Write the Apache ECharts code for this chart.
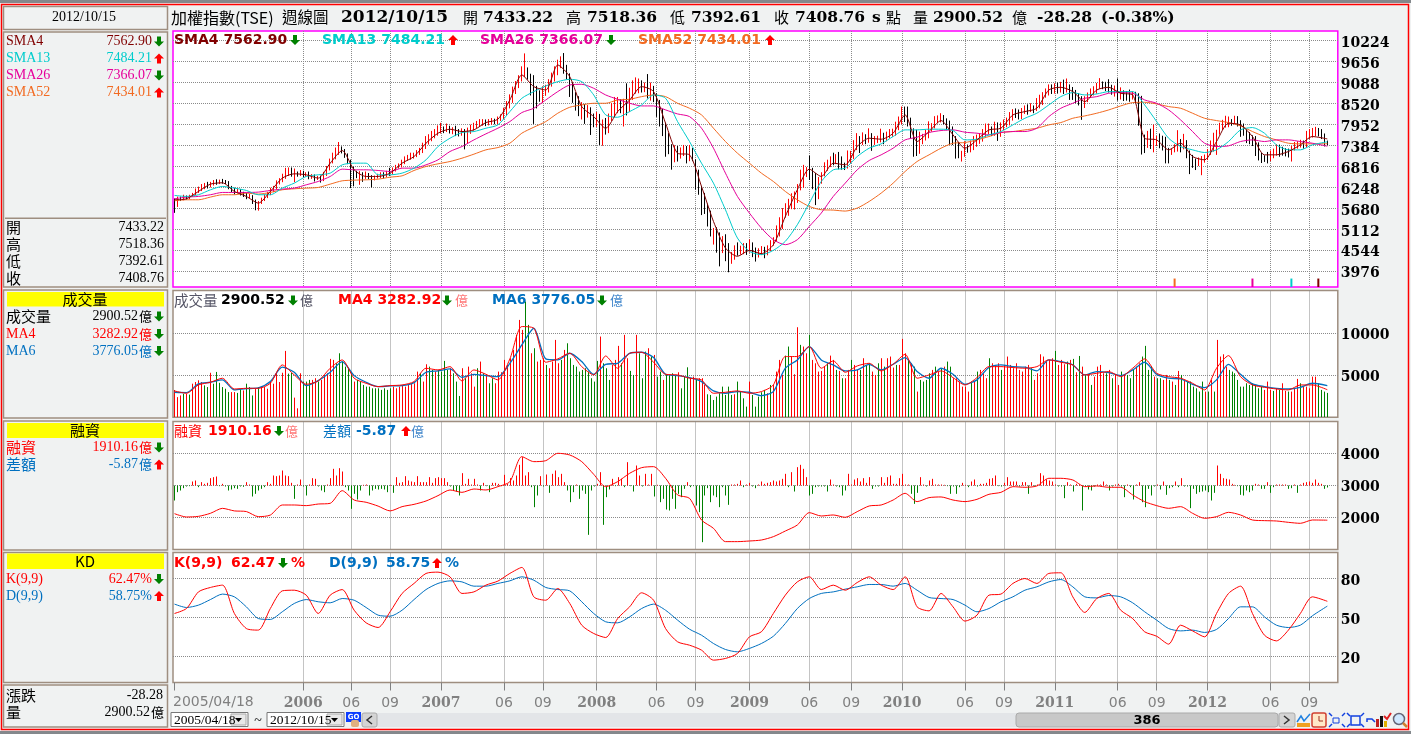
<!DOCTYPE html>
<html><head><meta charset="utf-8"><style>html,body{margin:0;padding:0;background:#f0f2f2}#c{width:1411px;height:734px}</style>
<script src="https://cdn.jsdelivr.net/npm/echarts@6/dist/echarts.min.js"></script></head><body><div id="c"></div>
<script>
const tickIdx=[43,59,72,89,110,123,141,161,174,192,212,226,243,264,277,294,315,328,345,366,379];
const tickLabels=['2006','06','09','2007','06','09','2008','06','09','2009','06','09','2010','06','09','2011','06','09','2012','06','09'];
const closes=[5700,5960,5930,5990,5960,6010,6070,6150,6200,6240,
6310,6280,6340,6390,6370,6420,6400,6390,6240,6180,
6130,6160,6090,6050,5990,6020,5870,5760,5830,5940,
6000,6080,6170,6230,6380,6440,6520,6610,6670,6590,
6620,6600,6630,6580,6610,6530,6560,6490,6520,6470,
6620,6760,6950,7080,7200,7310,7250,7130,6950,6750,
6640,6590,6610,6560,6600,6530,6470,6520,6560,6610,
6590,6650,6640,6720,6800,6840,6940,7020,7050,7100,
7110,7180,7230,7350,7460,7570,7650,7720,7790,7840,
7810,7830,7790,7800,7750,7730,7780,7620,7780,7850,
7900,7960,8000,8010,7980,8020,8040,8020,8080,8130,
8250,8440,8620,8850,8990,9180,9350,9480,9320,9180,
8880,8800,8650,8820,8900,9080,9210,9350,9540,9650,
9480,9250,9050,8620,8560,8270,8400,8210,8350,8100,
8040,8170,7700,7950,7800,8130,8300,8490,8540,8380,
8600,8470,8750,8900,8950,9020,8920,9000,8800,8900,
8640,8480,8280,7900,7620,7310,7020,7260,7140,7200,
7260,7030,7240,7060,6700,6150,5980,5640,5530,5000,
5030,4750,4600,4790,4460,4250,4370,4560,4500,4620,
4680,4560,4700,4510,4490,4550,4590,4560,4610,4750,
4830,5140,5290,5590,5650,5780,5990,6000,6300,6650,
6700,6740,6600,6560,6300,6450,6620,6800,6900,7000,
6980,7030,6870,6830,6820,7000,7120,7330,7520,7500,
7620,7530,7650,7560,7560,7570,7620,7580,7650,7700,
7740,7870,8050,8230,8200,7980,7700,7580,7240,7480,
7600,7640,7870,7880,8020,8100,8110,8090,8020,7860,
7500,7380,7130,7180,7350,7290,7420,7500,7560,7600,
7720,7790,7850,7790,7900,7760,7880,7950,8010,8130,
8280,8260,8210,8310,8380,8340,8400,8370,8440,8540,
8780,8860,8940,8900,8970,8920,8990,8950,8980,8850,
8780,8660,8640,8560,8630,8750,8820,8880,8960,9050,
9030,8990,8960,8880,8900,8740,8810,8770,8760,8730,
8790,8680,8170,7600,7500,7610,7480,7570,7590,7530,
7480,7290,7230,7260,7350,7500,7420,7420,7150,6980,
6900,6880,6950,7010,7040,7180,7400,7620,7720,7880,
7980,7990,8040,8020,8100,7980,7880,7700,7650,7580,
7530,7420,7120,7060,7050,7040,7150,7190,7300,7250,
7240,7210,7190,7270,7380,7420,7450,7380,7620,7700,
7730,7800,7740,7680,7437,7408.76];
const opens=[5910,5750,5960,5930,5990,5960,6010,6070,6150,6200,
6240,6310,6280,6340,6390,6370,6420,6400,6390,6240,
6180,6130,6160,6090,6050,5990,6020,5870,5760,5830,
5940,6000,6080,6170,6230,6380,6440,6520,6610,6670,
6590,6620,6600,6630,6580,6610,6530,6560,6490,6520,
6470,6620,6760,6950,7080,7200,7310,7250,7130,6950,
6750,6640,6590,6610,6560,6600,6530,6470,6520,6560,
6610,6590,6650,6640,6720,6800,6840,6940,7020,7050,
7100,7110,7180,7230,7350,7460,7570,7650,7720,7790,
7840,7810,7830,7790,7800,7750,7730,7780,7620,7780,
7850,7900,7960,8000,8010,7980,8020,8040,8020,8080,
8130,8250,8440,8620,8850,8990,9180,9350,9480,9320,
9180,8880,8800,8650,8820,8900,9080,9210,9350,9540,
9650,9480,9250,9050,8620,8560,8270,8400,8210,8350,
8100,8040,8170,7700,7950,7800,8130,8300,8490,8540,
8380,8600,8470,8750,8900,8950,9020,8920,9000,8800,
8900,8640,8480,8280,7900,7620,7310,7020,7260,7140,
7200,7260,7030,7240,7060,6700,6150,5980,5640,5530,
5000,5030,4750,4600,4790,4460,4250,4370,4560,4500,
4620,4680,4560,4700,4510,4490,4550,4590,4560,4610,
4750,4830,5140,5290,5590,5650,5780,5990,6000,6300,
6650,6700,6740,6600,6560,6300,6450,6620,6800,6900,
7000,6980,7030,6870,6830,6820,7000,7120,7330,7520,
7500,7620,7530,7650,7560,7560,7570,7620,7580,7650,
7700,7740,7870,8050,8230,8200,7980,7700,7580,7240,
7480,7600,7640,7870,7880,8020,8100,8110,8090,8020,
7860,7500,7380,7130,7180,7350,7290,7420,7500,7560,
7600,7720,7790,7850,7790,7900,7760,7880,7950,8010,
8130,8280,8260,8210,8310,8380,8340,8400,8370,8440,
8540,8780,8860,8940,8900,8970,8920,8990,8950,8980,
8850,8780,8660,8640,8560,8630,8750,8820,8880,8960,
9050,9030,8990,8960,8880,8900,8740,8810,8770,8760,
8730,8790,8680,8170,7600,7500,7610,7480,7570,7590,
7530,7480,7290,7230,7260,7350,7500,7420,7420,7150,
6980,6900,6880,6950,7010,7040,7180,7400,7620,7720,
7880,7980,7990,8040,8020,8100,7980,7880,7700,7650,
7580,7530,7420,7120,7060,7050,7040,7150,7190,7300,
7250,7240,7210,7190,7270,7380,7420,7450,7380,7620,
7700,7730,7800,7740,7680,7433.22];
const highs=[5950,6000,6000,6050,6030,6050,6100,6220,6270,6340,
6370,6400,6400,6450,6470,6460,6480,6450,6420,6290,
6240,6220,6200,6130,6100,6070,6040,5920,5880,5970,
6060,6130,6240,6290,6440,6500,6620,6780,6790,6790,
6760,6680,6720,6700,6660,6680,6610,6600,6560,6570,
6670,6830,7030,7190,7330,7480,7360,7290,7170,7000,
6810,6700,6690,6660,6680,6640,6580,6570,6620,6660,
6660,6700,6780,6790,6860,6900,7000,7090,7130,7190,
7190,7260,7320,7460,7640,7690,7780,7830,7930,8000,
7900,7980,7920,7880,7920,7830,7850,7830,7870,7950,
8000,8050,8100,8100,8090,8100,8130,8110,8170,8230,
8410,8590,8770,8980,9130,9290,9530,9880,9500,9330,
9290,9000,8880,8990,9030,9180,9360,9530,9710,9800,
9890,9570,9340,9090,8830,8720,8560,8510,8480,8420,
8250,8290,8240,8090,8130,8250,8530,8700,8700,8640,
8650,9070,8950,9150,9230,9200,9150,9090,9320,9090,
9000,8800,8620,8380,8000,7720,7420,7390,7370,7330,
7400,7370,7400,7320,7010,6730,6290,6100,5810,5620,
5150,5170,5030,4930,4980,4740,4500,4680,4760,4670,
4740,4740,4840,4760,4620,4600,4660,4640,4680,4820,
4900,5220,5440,5690,5820,5940,6090,6140,6340,6730,
6860,6800,7110,6780,6640,6530,6660,6930,7000,7090,
7190,7150,7210,7090,6920,7250,7240,7530,7720,7640,
7740,7690,7850,7720,7640,7650,7840,7730,7760,7830,
7840,8030,8170,8440,8440,8440,8140,7850,7810,7760,
7700,7810,8040,7990,8180,8200,8260,8210,8120,8060,
7900,7640,7480,7240,7500,7410,7520,7640,7680,7720,
7830,7980,7980,7900,8030,8010,8010,8090,8140,8290,
8370,8390,8360,8400,8470,8500,8530,8470,8670,8760,
8830,8930,9040,9040,9070,9090,9110,9170,9200,9040,
8970,8890,8800,8720,8720,8820,8930,8990,9080,9210,
9120,9110,9180,9030,9010,9200,8960,8880,8860,8900,
8850,8840,8800,8730,7680,7780,7840,7950,7640,7710,
7650,7620,7320,7310,7420,7800,7560,7700,7530,7250,
7130,7030,7060,7100,7140,7290,7520,7730,7810,8000,
8080,8190,8170,8100,8190,8180,8070,7980,7820,7750,
7660,7640,7470,7190,7120,7210,7250,7300,7420,7410,
7350,7310,7300,7370,7480,7500,7540,7520,7780,7830,
7860,7890,7860,7830,7710,7518.36];
const lows=[5560,5720,5880,5900,5920,5930,5990,6040,6100,6150,
6200,6220,6250,6300,6320,6340,6350,6340,6200,6120,
6060,6090,6030,5990,5930,5950,5800,5630,5620,5800,
5880,5960,6040,6120,6190,6330,6390,6480,6560,6540,
6390,6540,6560,6530,6540,6470,6480,6410,6450,6380,
6420,6560,6710,6900,7010,7130,7170,7050,6880,6230,
6280,6500,6320,6400,6480,6470,6250,6440,6490,6500,
6490,6530,6560,6600,6680,6760,6790,6880,6970,7000,
7030,7070,7130,7180,7290,7410,7500,7580,7650,7710,
7720,7750,7710,7690,7640,7630,7650,7280,7430,7700,
7790,7850,7890,7920,7910,7930,7950,7960,7960,8050,
8100,8200,8390,8540,8780,8940,9120,9240,9170,8740,
7970,8390,8570,8530,8730,8820,8980,9120,9290,9480,
9330,9180,8700,8540,8330,8180,8090,7970,8140,7670,
7880,7890,7400,7380,7680,7720,8050,8180,8260,8260,
7900,8200,8290,8620,8790,8800,8820,8830,8660,8600,
8560,8160,7900,7640,7080,7150,6730,6930,6950,7030,
7100,6900,6960,6960,6190,6050,5500,5530,5190,4920,
4700,4480,4110,4470,4250,3950,4180,4290,4400,4430,
4440,4420,4480,4360,4240,4350,4430,4330,4410,4520,
4670,4780,4920,5120,5430,5480,5660,5650,5830,6170,
6240,6530,6450,6200,5770,5930,6350,6550,6700,6800,
6850,6880,6740,6730,6720,6760,6900,7020,7260,7180,
7400,7420,7460,7240,7400,7450,7470,7420,7500,7580,
7620,7650,7800,7960,8020,7900,7580,7080,7100,7160,
7420,7520,7580,7760,7850,7990,8010,7960,7800,7400,
7400,7030,7040,6950,7080,7190,7200,7260,7350,7430,
7490,7620,7690,7640,7650,7510,7620,7800,7880,7930,
8060,8130,8090,8100,8240,8220,8290,8260,8320,8390,
8480,8680,8740,8780,8790,8790,8820,8780,8820,8620,
8620,8530,8470,8080,8400,8560,8680,8740,8790,8920,
8910,8860,8820,8760,8710,8600,8630,8590,8600,8570,
8630,8550,7920,7140,7180,7320,7290,7200,7370,7310,
7250,6900,6900,7130,7200,7220,7200,7280,7040,6610,
6780,6720,6830,6580,6920,6990,7130,7220,7130,7680,
7800,7870,7880,7920,7960,7900,7620,7650,7450,7420,
7370,7100,6980,6910,6940,6900,6960,7040,7110,7080,
7110,7090,7060,6950,7250,7300,7330,7300,7330,7560,
7600,7640,7630,7560,7360,7392.61];
const sma4=[5914,5941,6140,6338,6374,6140,6005,5824,6140,6500,6618,6591,6500,6906,7249,6726,6546,6546,6636,6906,7086,7447,7718,7826,7763,7808,
8006,8096,8619,9295,8980,8890,9566,9250,8439,8168,7853,8304,8619,8980,8845,7988,7177,7132,6275,5328,4607,4382,4544,4454,4697,5464,6185,6744,6546,6906,6861,7357,7582,7555,7718,8214,7492,7763,8060,7672,
7312,7537,7808,7853,8214,8304,8394,8890,8962,8845,8574,8890,8962,8800,8754,7582,7537,7267,7447,7086,6996,7492,7988,7943,7628,7132,7132,7222,7402,7628,7562.9];
const sma13=[6032,6005,6050,6185,6275,6230,6167,6050,6050,6230,6365,6546,6591,6636,6861,6906,6906,6591,6591,6636,6771,6996,7357,7582,7736,7763,
7853,7943,8304,8664,8845,8998,9115,9178,9115,8754,8214,8150,8304,8484,8754,8664,8033,7492,6906,6365,5644,4878,4517,4427,4544,4788,5238,5824,6410,6726,6771,7086,7312,7429,7628,7808,7808,7826,7826,7790,
7537,7555,7672,7763,7943,8123,8259,8484,8709,8818,8754,8781,8845,8845,8845,8484,8033,7582,7357,7267,7195,7267,7492,7808,7871,7718,7402,7267,7267,7402,7484.21];
const sma26=[5941,5987,6005,6050,6113,6113,6113,6122,6167,6203,6230,6320,6410,6546,6744,6726,6726,6708,6681,6771,6771,6861,6996,7222,7357,7537,
7700,7853,8033,8277,8394,8619,8845,9025,9043,8935,8754,8637,8529,8457,8457,8349,8240,8168,7853,7312,6636,6005,5554,5148,4832,4697,4832,5193,5554,6005,6365,6726,6978,7132,7312,7537,7609,7736,7790,7808,
7745,7718,7672,7736,7763,7763,7853,8168,8394,8529,8664,8709,8800,8818,8800,8619,8529,8349,8078,7763,7447,7357,7375,7492,7537,7492,7537,7537,7492,7447,7366.07];
const sma52=[5887,5914,5914,5987,6050,6050,6095,6068,6113,6185,6212,6230,6248,6338,6428,6446,6455,6473,6527,6563,6708,6816,6888,6951,7041,7150,
7267,7330,7447,7718,7880,8033,8259,8421,8484,8529,8529,8619,8637,8709,8754,8709,8529,8394,8214,7853,7492,7177,6906,6636,6410,6140,5914,5734,5644,5635,5608,5689,5869,6095,6365,6681,6951,7132,7312,7447,
7465,7537,7628,7736,7763,7808,7853,7943,8006,8123,8186,8259,8349,8457,8547,8556,8511,8439,8394,8259,8123,8060,8006,7916,7763,7628,7537,7447,7429,7429,7434.01];
const volumes=[3250,2400,2600,2800,2800,2700,4000,4200,4400,4200,
3800,3600,5300,4000,5400,4100,3600,3400,3000,3000,
3000,2900,3400,3200,4000,3600,2600,3400,3600,3600,
3600,3400,4200,4000,5300,4200,5300,7900,5200,5300,
2340,1070,5240,4250,4250,4450,4450,4650,4250,4450,
5040,5240,6950,6830,6430,7620,6630,6030,5840,5240,
4250,4450,4250,3850,3650,3650,3450,3450,3450,3260,
3450,3260,3450,3650,3450,3650,3850,3650,3850,4050,
4050,5440,5240,4250,6310,6030,5640,5440,5640,5440,
6710,5640,5840,5240,4250,2540,5840,4650,6030,5240,
3650,5840,6630,5240,5120,4050,4650,4050,5440,5360,
6830,6230,7030,8020,9810,11590,10400,13780,11000,7620,
8220,6630,6830,7030,6230,5840,6630,9210,6430,6830,
8020,8810,7030,6230,6030,5440,5640,5840,5440,4650,
4250,6710,9610,6430,5840,4450,6230,6830,8500,6430,
9810,7030,5520,5040,9810,7620,4650,7820,8220,7230,
7420,4840,5440,4450,5040,5040,5240,5040,5360,3450,
4840,5950,4650,4840,4450,4650,4650,3850,2740,2660,
2060,2460,2860,3650,2660,3650,2660,2740,4250,3060,
2260,1270,4250,2660,1270,2460,2980,3260,2860,3850,
3850,5440,6830,5040,7340,8420,7230,5120,10720,8620,
8420,7620,9810,6830,6430,5440,5520,6030,6430,7340,
6830,5640,5520,4650,4650,5640,6830,6230,5640,5640,
7030,6230,6430,5440,5040,6430,7030,6030,7030,7230,
5920,6230,6230,9330,7620,6830,6430,6030,3060,4450,
4250,4450,5240,5640,6030,5440,5840,6030,6630,6030,
4650,4650,4250,3650,3650,3060,4250,4250,5440,5640,
5240,4650,7030,6430,6230,6430,5640,6230,7230,6230,
5840,6430,5640,5440,6030,6230,5840,4450,5240,7500,
7230,6630,6830,7030,7900,6230,6830,6310,6630,6830,
6950,5360,7300,6030,5040,5040,3850,4840,6030,6230,
5240,5240,5640,4650,5040,3850,5440,5040,5040,4650,
5640,6030,6430,7230,8500,5640,6030,4840,4650,4650,
4450,5040,4450,4250,3850,5520,5040,4450,4250,4250,
3650,3450,3060,4250,3060,3060,4450,3060,9210,7230,
7500,6030,5640,5440,5240,4450,3650,3650,4050,3850,
4050,3850,3450,3650,3260,4250,3260,3140,3450,3260,
4050,3140,3060,3060,3370,4570,4050,3650,3650,3450,
4840,4840,4050,3260,3060,2900.52];
const volumeDir=['rrrgrgrrrr','ggrggggggr','rggrgggrgr','rrrrrrrrgg','rrrgggrrgr','rrrrgggggg','rggggggggg','gggrrrrrrr','rrgrrggrgg','ggrgggrgrr',
'rgrgrggrrr','rrrrrrrggr','grrrgrrrrg','rggggggggg','ggrgggrrrg','rrggrgggrg','rggrggggrg','ggrrgrrrgg','gggggggrgg','ggrgggggrg',
'rrrrggrrrg','rrgrrrrrgr','rgrgrrgrrg','rggrrgrgrr','rgrrrgrgrg','gggrgrgrgg','rrrrrrgrgr','rrgrrrgrrr','rrrrrrgrrr','rrrrgrrrgr',
'grgrgrgrrr','rgrgrrgrgg','grrggggrgg','rrgrgrgrgg','ggggrgrgrr','rrgggggggg','ggggrrrgrg','rrgrrrgrrr','rrgggg'].join('');
const volMA4=[3140,2860,3850,4170,4650,3370,3450,3450,4050,6230,5040,3930,4330,5840,6830,4650,4050,3650,3770,3850,4250,5840,5640,6030,4330,5640,
5120,4450,6950,10800,10600,6550,6950,7620,6030,5040,7300,5840,7620,7740,6550,5120,5040,4650,4450,2860,2980,3140,2860,3060,3850,7230,7230,8420,5840,6710,5360,6110,6430,5520,6310,7500,4650,5040,5520,4720,
3850,4720,6030,6030,5920,5840,6030,6830,6550,6230,5040,5240,5440,4840,5840,6950,5240,4840,4650,4050,3260,5840,7340,4840,3850,3570,3370,3260,3850,3850,3282.92];
const volMA6=[2980,2940,3970,4170,4450,3260,3410,3490,4250,5960,5360,3770,4370,5360,6630,4960,4170,3650,3730,3770,4130,5360,5520,5760,4760,5120,
4960,4840,6430,8610,10600,6950,6830,7620,6630,5120,6310,6430,7620,7740,7110,5120,4960,4720,4250,3140,2860,3060,2980,2580,3060,5840,6830,8420,6830,6230,5520,5640,6310,5640,6310,7110,5440,4650,5840,5120,
3930,4450,5920,6230,6030,5960,5520,6830,6630,6230,5040,5440,5320,4960,5640,6550,5120,4650,4570,3930,3530,4450,6310,5120,3970,3650,3450,3370,3570,4050,3776.05];
const margin=[2114,2010,2030,2125,2280,2200,2180,2020,2070,2385,2385,2365,2415,2437,2833,2540,2470,2350,2200,2333,2405,2510,2677,2854,2780,2885,
2854,2958,3115,3896,3740,3770,4000,3948,3740,3344,2958,3115,3375,3552,3583,3219,2700,2594,1916,1656,1240,1240,1260,1290,1395,1572,1760,2146,2041,2073,2000,2177,2354,2385,2540,2750,2490,2615,2636,2540,
2490,2562,2719,2780,2958,2938,2979,3219,3219,3167,2958,2979,2938,2938,2698,2490,2365,2281,2333,2125,1969,2020,2156,2073,1916,1896,1885,1843,1812,1916,1910.16];
const marginDiff=[-45,-20,-15,-8,-3,-2,12,15,-5,10,5,8,22,25,27,-2,5,-3,-15,-12,-8,-10,-3,-4,10,3,-33,-25,-15,-10,-5,10,5,30,28,30,45,30,28,8,-40,3,18,-3,-30,3,22,20,-3,-15,-20,3,22,50,30,52,42,-5,-15,-70,-25,-42,-15,2,3,-30,-15,-10,-12,-10,-12,-20,2,-22,25,8,10,28,15,12,10,28,10,10,10,25,8,22,25,22,22,10,-3,-15,-18,-30,37,5,20,3,20,3,
-15,8,-2,-20,8,8,5,-2,32,5,22,15,30,62,85,30,40,-5,-65,-30,28,-3,33,-22,35,45,25,35,10,-15,-50,-20,3,-40,-15,-25,-148,-15,-3,5,40,-118,-35,-12,20,-2,25,20,-5,70,-2,-18,60,30,-3,35,3,35,-33,2,-50,-40,-72,-75,-40,-70,-25,-35,-10,10,-5,-2,-60,-80,-170,-30,-8,-50,-30,-35,-65,-5,-30,-58,3,3,5,15,-5,3,8,-3,-8,3,12,5,8,10,15,12,15,20,35,-5,40,-18,55,62,50,25,-30,-25,-5,-3,-3,-3,-18,18,3,-3,-5,-30,-15,35,3,18,22,12,22,8,25,-10,-3,-3,25,8,25,30,5,5,22,35,3,3,-25,-55,-22,25,3,-3,15,20,3,3,3,2,-2,-25,-3,-25,
-5,
8,2,-5,12,18,-3,5,5,8,20,22,30,-2,-3,8,25,12,12,12,-3,10,10,-25,10,-3,3,37,30,18,15,12,3,-3,-3,-38,10,3,-18,5,3,-75,-3,-12,-15,-3,3,3,12,3,-15,-3,3,5,-3,-35,3,-5,-42,3,10,-50,-65,-10,-30,-3,3,-12,12,-28,-8,-5,12,-5,22,-3,-3,-68,-10,-25,-20,-18,-15,-20,-45,-22,60,35,22,20,18,5,2,-2,-28,-30,-15,-20,-15,5,3,-10,-10,10,-22,-5,3,3,3,3,-10,-8,3,-22,3,8,10,12,8,18,8,5,-10,-5.87];
const kdK=[53.1,56.9,69.7,73.1,74.9,53.1,41.5,40.3,56.9,70.5,71,67.2,53.1,67.2,71.5,55.6,45.9,42.3,54.4,68.5,76.2,83.9,84.9,81.3,68.5,69.7,
74.9,78,83.9,88.5,65.9,63.3,72.3,60.8,44.1,37.7,34.6,49.2,58.2,69,63.3,41.5,31.3,28.7,24.9,17.2,18.5,22.3,35.1,39,53.1,67.2,77.4,81.3,71.5,74.9,71,76.9,81.3,74.9,71.5,81.3,58.2,55.1,68.5,58.2,
47.2,51.8,67.2,68,76.2,80,76.2,83.9,84.4,65.9,53.9,64.6,68.5,55.6,49.2,39,35.6,29.5,44.1,39.7,35.1,53.1,68.5,74.1,53.1,36.4,32,40.3,53.1,65.9,62.47];
const kdD=[60.3,57.7,59.5,63.8,68,65.9,58.2,49.2,48.5,54.4,60.8,63.8,62.1,61.3,64.6,63.3,57.7,51.8,51,55.6,63.8,71.5,76.2,78.2,77.4,74.1,
74.1,76.2,78.2,81.3,78.7,73.1,71.5,70.5,62.1,53.1,46.7,45.9,50.5,56.9,60.3,55.6,48,41,36.4,30,25.4,23.6,26.2,30,35.6,45.4,56.9,64.6,68.5,69.7,71.8,73.6,75.4,75.4,74.1,76.2,71,65.4,64.6,63.8,
59.5,54.4,56.9,62.1,65.9,71,73.6,77.4,79.2,73.6,65.9,65.1,66.9,65.9,61.3,54.4,48,41.5,39.7,40.3,38.5,40.8,49.2,58.2,58.2,50.5,44.1,42.3,44.1,51.3,58.75];
const crossIdx=[334,360,373,382];
const crossVal=[3780,3780,3780,3780];
const crossColor=['#f26a21','#e6009a','#00cccc','#800000'];
const priceTicks=[3976,4544,5112,5680,6248,6816,7384,7952,8520,9088,9656,10224];
const volTicks=[5000,10000], marginTicks=[2000,3000,4000], kdTicks=[20,50,80];
const sideSMA=[['SMA4','7562.90',0,'#800000'],['SMA13','7484.21',1,'#00cccc'],['SMA26','7366.07',0,'#e6009a'],['SMA52','7434.01',1,'#f26a21']];

const N=389, lineStep=4, lastIdx=385;
const categories=Array.from({length:N},(_,i)=>String(i));
const sparse=a=>{const d=new Array(N).fill(null);a.forEach((v,k)=>{d[k===a.length-1?lastIdx:k*lineStep]=v});return d};
const tickMap={};tickIdx.forEach((t,k)=>tickMap[t]=tickLabels[k]);
const isTick=i=>i===0||tickMap[i]!==undefined;
const isGrid=i=>tickMap[i]!==undefined;

const RED='#ff0000',GRN='#008000',BLU='#0070c0',BRN='#9e8e80',MAG='#ff00ff';
const serif='"Liberation Serif","Noto Sans CJK TC",serif', cjk='"Noto Sans CJK TC","Liberation Serif",sans-serif',
      dsb='"DejaVu Sans","Noto Sans CJK TC",sans-serif', dse='"DejaVu Serif","Noto Sans CJK TC",serif';
const G=[];
function T(x,y,s,o){o=o||{};G.push({type:'text',z:100,silent:true,x:x,y:y,style:{text:s,fill:o.c||'#000',fontFamily:o.f||serif,fontSize:o.s||14,fontWeight:o.b?'bold':'normal',align:o.a||'left',verticalAlign:'middle'}})}
function R(x,y,w,h,o){o=o||{};G.push({type:'rect',z:o.z||50,silent:true,shape:{x:x,y:y,width:w,height:h,r:o.r||0},style:{fill:o.fill||'none',stroke:o.stroke||null,lineWidth:o.lw||1}})}
function P(pts,o){G.push({type:'polyline',z:60,silent:true,shape:{points:pts},style:{stroke:o.c,lineWidth:o.lw||1,fill:'none'}})}
function A(x,y,up){const c=up?RED:GRN,d=up?-1:1;G.push({type:'polygon',z:100,silent:true,shape:{points:[[x,y+5*d],[x-5,y],[x-2,y],[x-2,y-5*d],[x+2,y-5*d],[x+2,y],[x+5,y]]},style:{fill:c}})}

R(0,0,1411,3,{fill:'#84888c'});R(0,731,1411,3,{fill:'#84888c'});
R(1.5,4.5,1407,725,{stroke:RED,lw:1.5});
[[3.5,6.5,164,23],[3.5,32,164,255],[3.5,290,164,128],[3.5,421,164,129],[3.5,552.5,164,130],[3.5,685,164,42]].forEach(b=>R(b[0],b[1],b[2],b[3],{stroke:BRN,lw:1.5}));
R(5,217.5,161,1.5,{fill:BRN});
T(84,17.5,'2012/10/15',{a:'center'});
sideSMA.forEach((r,k)=>{const y=41.5+17*k;T(6,y,r[0],{c:r[3]});T(152,y,r[1],{c:r[3],a:'right'});A(159,y,r[2])});
[['開','7433.22'],['高','7518.36'],['低','7392.61'],['收','7408.76']].forEach((r,k)=>{const y=227.5+17*k;T(6,y,r[0],{f:cjk,s:15});T(164,y,r[1],{a:'right'})});
function head(y,h,s){R(7,y,157,h,{fill:'#ffff00'});T(85,y+h/2,s,{f:cjk,s:15,a:'center'})}
head(292,14.5,'成交量');head(423,15,'融資');head(553.5,15.5,'KD');
function side(y,lab,val,c,up,unit){T(6,y,lab,{c:c,f:/[A-Z]/.test(lab)?serif:cjk,s:/[A-Z]/.test(lab)?14:15});T(unit?138:152,y,val,{c:c,a:'right'});if(unit)T(139,y,unit,{c:c,f:cjk,s:13});A(159,y,up)}
side(316.5,'成交量','2900.52','#000',0,'億');side(334,'MA4','3282.92',RED,0,'億');side(351,'MA6','3776.05',BLU,0,'億');
side(447.5,'融資','1910.16',RED,0,'億');side(464.5,'差額','-5.87',BLU,1,'億');
side(579,'K(9,9)','62.47%',RED,0);side(596,'D(9,9)','58.75%',BLU,1);
T(6,695,'漲跌',{f:cjk,s:15});T(163,695,'-28.28',{a:'right'});T(6,712,'量',{f:cjk,s:15});T(150,712,'2900.52',{a:'right'});T(151,712,'億',{f:cjk,s:13});
T(171,17.5,'加權指數(TSE)',{f:cjk,s:16});T(282,17.5,'週線圖',{f:cjk,s:15.5});
[[341,'2012/10/15'],[483,'7433.22'],[587,'7518.36'],[691,'7392.61'],[795,'7408.76'],[872,'s'],[933,'2900.52'],[1037,'-28.28'],[1101,'(-0.38%)']].forEach(r=>T(r[0],17.5,r[1],{f:dse,b:1,s:r[1].length==10?17:15.5}));
[[463,'開'],[566,'高'],[670,'低'],[774,'收'],[886,'點'],[913,'量'],[1012,'億']].forEach(r=>T(r[0],17.5,r[1],{f:cjk,s:15}));
[[174,'SMA4 7562.90','#800000',295,0],[322,'SMA13 7484.21','#00cccc',453,1],[480,'SMA26 7366.07','#e6009a',611,0],[638,'SMA52 7434.01','#f26a21',770,1]].forEach(r=>{T(r[0],40,r[1],{f:dsb,b:1,c:r[2]});A(r[3],40,r[4])});
T(174,300.5,'成交量',{f:cjk,s:14.5,c:'#556'});T(221,300.5,'2900.52',{f:dsb,b:1});A(293,300.5,0);T(300,300.5,'億',{f:cjk,s:13,c:'#556'});
T(338,300.5,'MA4 3282.92',{f:dsb,b:1,c:RED});A(447,300.5,0);T(455,300.5,'億',{f:cjk,s:13,c:'#f77'});
T(492,300.5,'MA6 3776.05',{f:dsb,b:1,c:BLU});A(602,300.5,0);T(610,300.5,'億',{f:cjk,s:13,c:'#48c'});
T(174,431,'融資',{f:cjk,s:14,c:RED});T(208,431,'1910.16',{f:dsb,b:1,c:RED});A(279,431,0);T(285,431,'億',{f:cjk,s:13,c:'#f77'});
T(323,431,'差額',{f:cjk,s:14,c:BLU});T(356,431,'-5.87',{f:dsb,b:1,c:BLU});A(406,431,1);T(411,431,'億',{f:cjk,s:13,c:'#48c'});
T(174,563,'K(9,9)',{f:dsb,b:1,c:RED});T(231,563,'62.47',{f:dsb,b:1,c:RED});A(283,563,0);T(291,563,'%',{f:dsb,b:1,c:RED});
T(329,563,'D(9,9)',{f:dsb,b:1,c:BLU});T(386,563,'58.75',{f:dsb,b:1,c:BLU});A(437,563,1);T(445,563,'%',{f:dsb,b:1,c:BLU});
T(173,702,'2005/04/18',{f:dsb,s:14,c:'#808080'});
function combo(x,w,s){R(x,712.5,w,14,{fill:'#fff',stroke:'#777'});T(x+3,720,s,{s:13.5});R(x+w-17,714,15,11,{fill:'#e8e8e8',stroke:'#aaa'});G.push({type:'polygon',z:70,silent:true,shape:{points:[[x+w-13,718],[x+w-6,718],[x+w-9.5,722]]},style:{fill:'#000'}})}
combo(171,77,'2005/04/18');combo(267,77,'2012/10/15');T(258,721,'~',{s:14,a:'center'});
R(346,712,15,10,{fill:'#0a3cff'});T(353.5,717,'GO',{f:dsb,s:7,b:1,c:'#fff',a:'center'});R(351,720,8,7,{fill:'#e0b080',r:2});
R(362,713,933,14,{fill:'#e3e5e8'});
R(362,713,15,14,{fill:'#d4d4d4',stroke:'#aaa',r:2});P([[372,716],[367,720],[372,724]],{c:'#333',lw:1.5});
R(1016,713,262,14,{fill:'#c8c8c8',stroke:'#aaa',r:3});T(1147,720.5,'386',{f:dsb,s:13,b:1,a:'center'});
R(1279,713,16,14,{fill:'#d4d4d4',stroke:'#aaa',r:2});P([[1284,716],[1289,720],[1284,724]],{c:'#333',lw:1.5});
R(1297,723,13,4,{fill:'#f0a020'});P([[1297,722],[1301,716],[1304,721],[1310,714]],{c:'#2080e0',lw:1.5});
R(1312,713,14,14,{fill:'#ffe8c8',stroke:'#d04030',lw:1.5,r:2});P([[1319,716],[1319,721],[1323,721]],{c:'#a03020',lw:1});
R(1333,718,6,5,{stroke:'#1040e0'});P([[1329,713],[1332,716]],{c:'#1040e0',lw:1.5});P([[1345,713],[1342,716]],{c:'#1040e0',lw:1.5});P([[1329,727],[1332,724]],{c:'#1040e0',lw:1.5});P([[1345,727],[1342,724]],{c:'#1040e0',lw:1.5});
R(1351,716,9,9,{stroke:'#1040e0',lw:1.5});P([[1347,713],[1350,716]],{c:'#1040e0',lw:1.5});P([[1364,713],[1361,716]],{c:'#1040e0',lw:1.5});P([[1347,727],[1350,724]],{c:'#1040e0',lw:1.5});P([[1364,727],[1361,724]],{c:'#1040e0',lw:1.5});
P([[1375,722],[1372,719],[1367,719],[1367,722]],{c:'#1040e0',lw:1.5});
R(1376,719,3,8,{fill:'#c02020'});R(1380,716,3,11,{fill:'#111'});R(1384,721,3,6,{fill:'#e0b000'});P([[1384,716],[1387,719],[1391,713]],{c:'#e02020',lw:2});
G.push({type:'circle',z:60,silent:true,shape:{cx:1399,cy:719,r:5.5},style:{fill:'#cfe8ff',stroke:'#667',lineWidth:1.5}});P([[1403,723],[1407,727]],{c:'#d08030',lw:2.5});

const gridCfg=[[31,256,MAG,1.5],[290.5,126.8,BRN,1.5],[421.5,128,BRN,1.5],[552.5,130,BRN,1.5]];
const grids=gridCfg.map(g=>({show:true,left:173,width:1164.8,top:g[0],height:g[1],backgroundColor:'#fff',borderColor:g[2],borderWidth:g[3],containLabel:false}));
const dot={show:true,lineStyle:{color:'#8a8a8a',type:[1,1],width:1}};
const xAxes=[0,1,2,3].map(k=>({type:'category',gridIndex:k,data:categories,boundaryGap:true,axisLine:{show:false},
  axisTick:k==3?{show:true,length:8,alignWithLabel:true,interval:i=>isTick(i),lineStyle:{color:'#808080',width:1}}:{show:false,alignWithLabel:true,interval:i=>isGrid(i)},
  splitLine:{...dot,alignWithLabel:true,interval:i=>isGrid(i)},
  axisLabel:k==3?{show:true,interval:i=>isGrid(i),margin:14,formatter:(v,i)=>{const s=tickMap[v];return s===undefined?'':(s.length==4?'{y|'+s+'}':'{m|'+s+'}')},
    rich:{y:{fontFamily:'"DejaVu Serif"',fontWeight:'bold',fontSize:14,color:'#808080'},m:{fontFamily:'"DejaVu Sans"',fontSize:14,color:'#808080'}}}:{show:false}}));
const yA=(k,min,max,ticks)=>({type:'value',gridIndex:k,min:min,max:max,position:'right',scale:true,axisLine:{show:false},
  axisTick:{show:false,customValues:ticks},splitLine:dot,
  axisLabel:{show:true,customValues:ticks,formatter:v=>'{a|'+v+'}',margin:3,
    rich:{a:{padding:[5,0,0,0],color:'#000',fontFamily:'"DejaVu Serif"',fontWeight:'bold',fontSize:14}}}});
const yAxes=[yA(0,3551,10487,priceTicks),yA(1,0,15090,volTicks),yA(2,994,4994,marginTicks),yA(3,0,100,kdTicks),
  {type:'value',gridIndex:2,min:-192,max:192,show:false,splitLine:{show:false}}];
const line=(name,arr,color,x,y,w)=>({name:name,type:'line',xAxisIndex:x,yAxisIndex:y,data:sparse(arr),connectNulls:true,showSymbol:false,symbol:'none',smooth:0.25,silent:true,lineStyle:{color:color,width:w||1},z:5});
const stick=(name,arr,x,y,colorOf)=>({name:name,type:'custom',xAxisIndex:x,yAxisIndex:y,silent:true,z:3,clip:true,data:arr.map((v,i)=>[i,v]),encode:{x:0,y:1},
  renderItem:(p,api)=>{const i=api.value(0),v=api.value(1),t=api.coord([i,v]),b=api.coord([i,0]),px=Math.round(t[0])+0.5;
    return {type:'line',shape:{x1:px,y1:b[1],x2:px,y2:t[1]},style:{stroke:colorOf(i,v),lineWidth:1,fill:null}}}});
const crossData=new Array(N).fill(null);crossIdx.forEach((t,k)=>crossData[t]={value:crossVal[k],itemStyle:{color:crossColor[k]}});
const series=[
 {name:'K線',type:'candlestick',xAxisIndex:0,yAxisIndex:0,barWidth:0.2,data:closes.map((c,i)=>[opens[i],c,lows[i],highs[i]]),itemStyle:{color:'#ff0000',color0:'#000',borderColor:'#ff0000',borderColor0:'#000',borderWidth:1},silent:true,z:3},
 {name:'cross',type:'bar',xAxisIndex:0,yAxisIndex:0,barWidth:2,data:crossData,silent:true,z:3},
 line('SMA52',sma52,'#f26a21',0,0),line('SMA26',sma26,'#e6009a',0,0),line('SMA13',sma13,'#00cccc',0,0),line('SMA4',sma4,'#800000',0,0),
 stick('成交量',volumes,1,1,i=>volumeDir[i]=='g'?GRN:RED),
 line('MA6',volMA6,BLU,1,1,1.3),line('MA4',volMA4,RED,1,1),
 stick('差額',marginDiff,2,4,(i,v)=>v<0?GRN:RED),
 line('融資',margin,RED,2,2),
 line('D',kdD,BLU,3,3),line('K',kdK,RED,3,3)
];
const chart=echarts.init(document.getElementById('c'),null,{renderer:'canvas',width:1411,height:734});
chart.setOption({animation:false,backgroundColor:'#f0f2f2',grid:grids,xAxis:xAxes,yAxis:yAxes,series:series,graphic:{elements:G}});
</script></body></html>
